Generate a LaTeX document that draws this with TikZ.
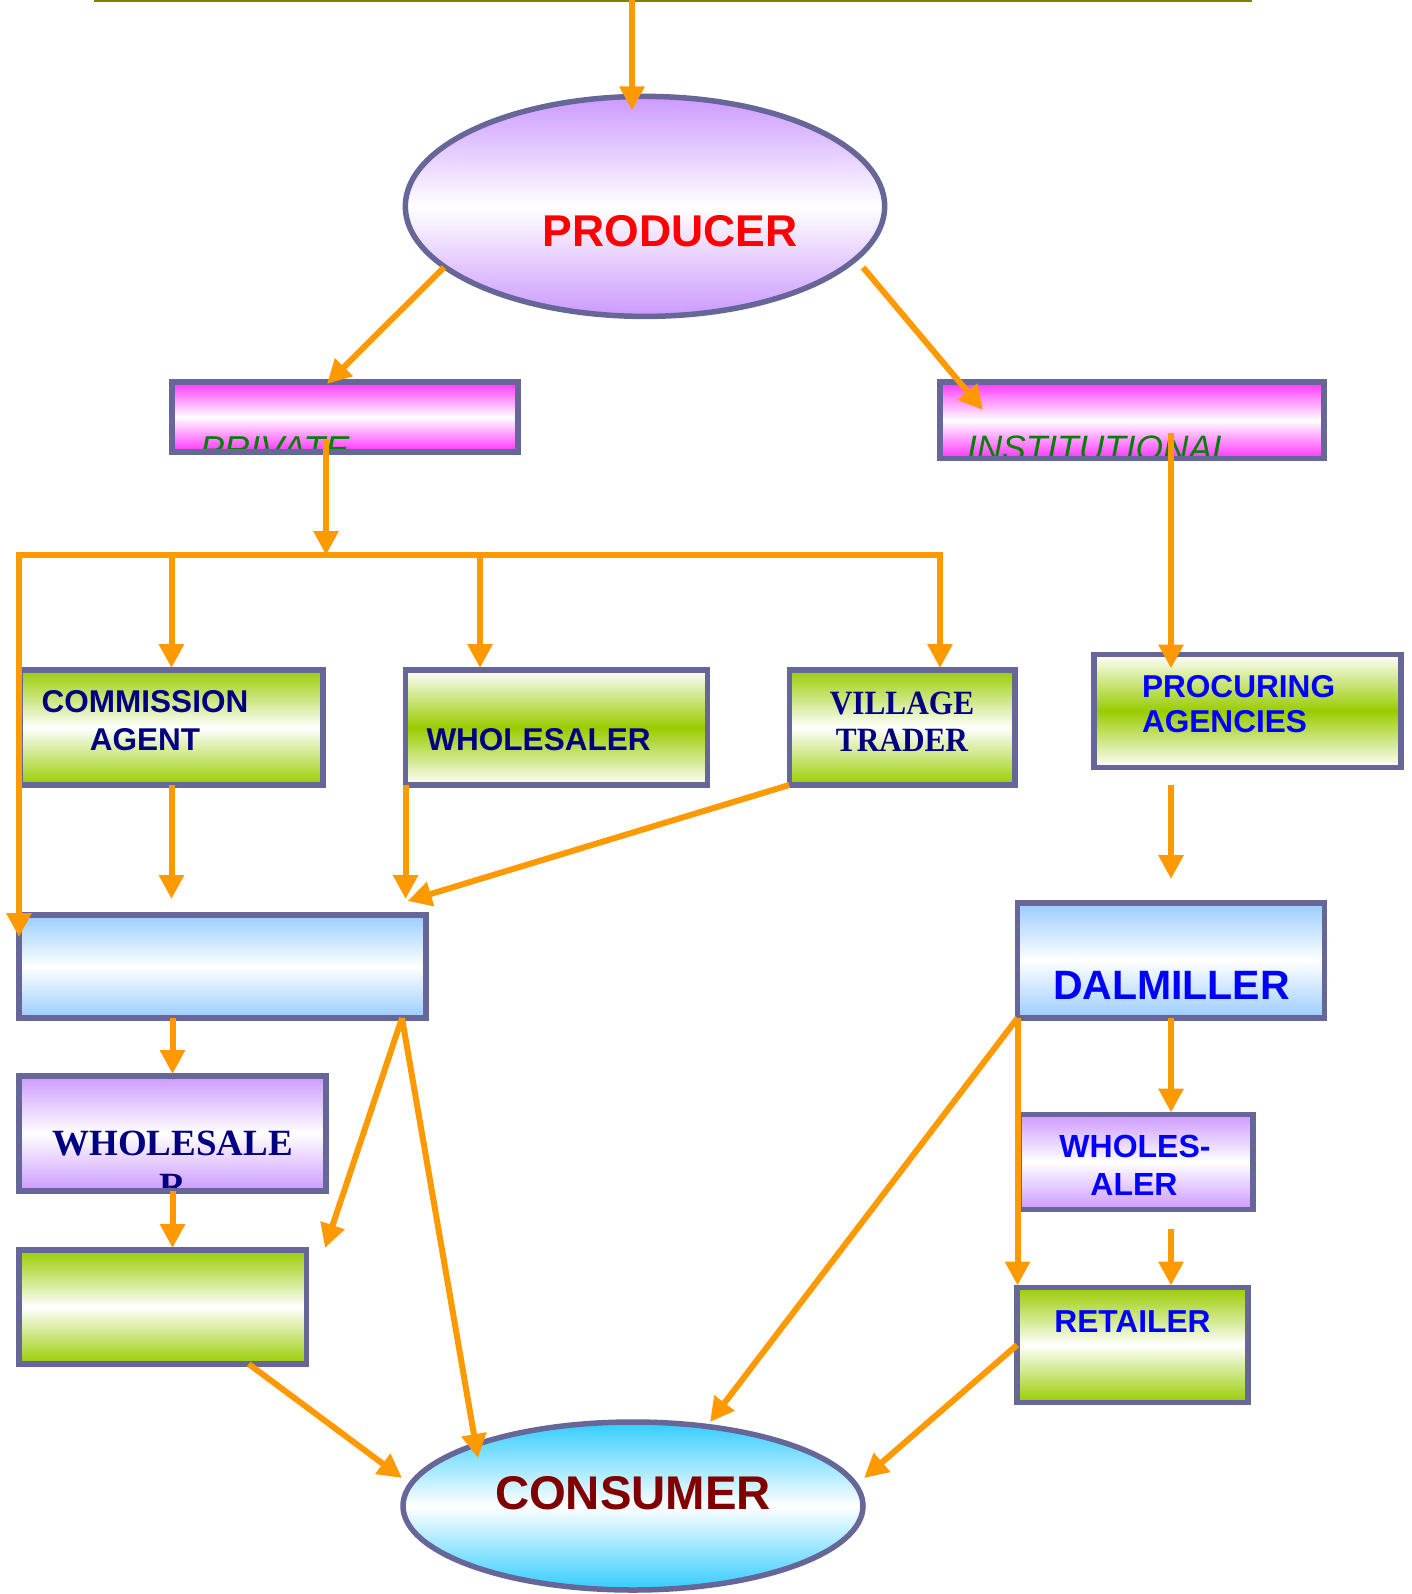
\documentclass[tikz,border=0pt]{standalone}
\usepackage{fontspec}
\setmainfont{Liberation Sans}
\newfontfamily\tnr{Liberation Serif}
\usetikzlibrary{arrows.meta,shapes.geometric,calc}
\definecolor{orng}{HTML}{FF9900}
\definecolor{bord}{HTML}{666699}
\definecolor{purp}{HTML}{CC99FF}
\definecolor{mag}{HTML}{FF33FF}
\definecolor{grn}{HTML}{99CC00}
\definecolor{lblue}{HTML}{99CCFF}
\definecolor{cyn}{HTML}{33CCFF}
\definecolor{olv}{HTML}{808000}
\definecolor{nvy}{HTML}{000080}
\definecolor{blu}{HTML}{0000FF}
\definecolor{grtxt}{HTML}{008000}
\definecolor{mroon}{HTML}{800000}
\newcommand\myfs[1]{\fontsize{#1}{#1}\selectfont}
\begin{document}
\begin{tikzpicture}[x=1pt,y=-1pt,
  box/.style={rectangle, draw=bord, line width=5.5pt, inner sep=0pt, outer sep=0pt},
  oval/.style={ellipse, draw=bord, line width=5.5pt, inner sep=0pt, outer sep=0pt},
  shP/.style={top color=purp, bottom color=purp, middle color=white},
  shM/.style={top color=mag, bottom color=mag, middle color=white},
  shG/.style={top color=grn, bottom color=grn, middle color=white},
  shGi/.style={top color=white, bottom color=white, middle color=grn},
  shB/.style={top color=lblue, bottom color=lblue, middle color=white},
  shC/.style={top color=cyn, bottom color=cyn, middle color=white},
  arr/.style={draw=orng, line width=6pt, -{Triangle[length=24pt,width=24pt]}},
  lbl/.style={anchor=base, inner sep=0pt, outer sep=0pt},
  intxt/.style={inner sep=0pt, outer sep=0pt, minimum width=0pt, minimum height=0pt},
  sansb/.style={font=\myfs{#1}\bfseries},
  serb/.style={font=\tnr\myfs{#1}\bfseries},
]
\useasboundingbox (0,0) rectangle (1411,1594);

% top line
\draw[olv, line width=3pt] (94,0.5) -- (1252,0.5);

% nodes
\node[oval, shP, minimum width=479.4pt, minimum height=220pt] (prod) at (645,206.4) {};
\node[box, shM, minimum width=346pt, minimum height=70pt,
  path picture={\node[intxt, anchor=base west, font=\myfs{36}\itshape, text=grtxt] (privtxt)
    at ($(path picture bounding box.north west)+(28,79)$) {PRIVATE};}] (priv) at (345,417) {};
\node[box, shM, minimum width=384pt, minimum height=76.5pt,
  path picture={\node[intxt, anchor=base west, font=\myfs{35.3}\itshape, text=grtxt] (insttxt)
    at ($(path picture bounding box.north west)+(27,78)$) {INSTITUTIONAL};}] (inst) at (1132,420.25) {};
\node[box, shG, minimum width=303pt, minimum height=115pt] (cA) at (171.5,727.5) {};
\node[box, shGi, minimum width=302pt, minimum height=115pt] (ws) at (556.6,727.5) {};
\node[box, shG, minimum width=225.5pt, minimum height=115pt] (vt) at (902,727.5) {};
\node[box, shGi, minimum width=307pt, minimum height=113pt] (pa) at (1247.5,711) {};
\node[box, shB, minimum width=407pt, minimum height=103pt] (lb) at (222.5,966.5) {};
\node[box, shB, minimum width=307pt, minimum height=115pt] (dal) at (1171,960.5) {};
\node[box, shP, minimum width=307pt, minimum height=115pt,
  path picture={
    \node[intxt, anchor=base, serb=37, text=nvy] (wrt1) at ($(path picture bounding box.center)+(0,21.5)$) {WHOLESALE};
    \node[intxt, anchor=base, serb=37, text=nvy] (wrt2) at ($(path picture bounding box.center)+(0,64.5)$) {R};}] (wr) at (172.5,1133.5) {};
\node[box, shG, minimum width=287.5pt, minimum height=114pt] (gb) at (162.75,1307) {};
\node[box, shP, minimum width=234pt, minimum height=95pt] (wa) at (1136,1162) {};
\node[box, shG, minimum width=231pt, minimum height=115pt] (ret) at (1132.5,1345) {};
\node[oval, shC, minimum width=460pt, minimum height=168pt] (cons) at (633,1506) {};

% labels
\node[lbl, sansb=44.5, text=red] (tprod) at (670,247) {PRODUCER};
\node[lbl, sansb=47.3, text=mroon] (tcons) at (633,1509) {CONSUMER};
\node[lbl, sansb=31.5, text=nvy] (tca1) at (145,712) {COMMISSION};
\node[lbl, sansb=31.5, text=nvy] (tca2) at (145,750) {AGENT};
\node[lbl, sansb=31.5, text=nvy] (tws) at (538.5,750) {WHOLESALER};
\node[lbl, serb=34, text=nvy] (tvt1) at (902,714) {\scalebox{0.92}[1]{VILLAGE}};
\node[lbl, serb=34, text=nvy] (tvt2) at (902,751) {\scalebox{0.92}[1]{TRADER}};
\node[lbl, anchor=base west, sansb=31.6, text=blu] (tpa1) at (1142,697) {PROCURING};
\node[lbl, anchor=base west, sansb=31.6, text=blu] (tpa2) at (1142,732) {AGENCIES};
\node[lbl, sansb=41, text=blu] (tdal) at (1171.5,999) {DALMILLER};
\node[lbl, sansb=32, text=blu] (twa1) at (1135,1157) {WHOLES-};
\node[lbl, sansb=32, text=blu] (twa2) at (1134,1195) {ALER};
\node[lbl, sansb=31.7, text=blu] (tret) at (1132.5,1332) {RETAILER};

% coordinates
\coordinate (ts) at (632,0);
\coordinate (jL) at (19,555);
\coordinate (jR) at (940,555);
\coordinate (jP) at (326,555);
\coordinate (b2) at (480,555);
\coordinate (iS) at ($(inst.south)+(39,-25.5)$);
\coordinate (lbo) at ($(lb.south east)+(-24,0)$);
\coordinate (free) at (325,1248);
\coordinate (wS) at ($(dal.south |- wa.south)+(0,19)$);

% connectors
\draw[arr] (ts) -- ($(ts |- prod.north)+(0,14)$);
\draw[arr] ($(prod.center)+(-201,61)$) -- ($(priv.north)+(-18,2)$);
\draw[arr] ($(prod.center)+(218,61)$) -- ($(inst.north west)+(43,28)$);
\draw[arr] ($(priv.south)+(-19,-12)$) -- (jP);
\draw[arr] (jR) -- (jL) -- ($(jL |- lb.north)+(0,22)$);
\draw[arr] (jL -| cA.north) -- ($(cA.north)+(0,-2)$);
\draw[arr] (b2) -- ($(b2 |- ws.north)+(0,-2)$);
\draw[arr] ($(jR)+(0,-3)$) -- ($(jR |- vt.north)+(0,-2)$);
\draw[arr] (iS) -- ($(iS |- pa.north)+(0,14)$);
\draw[arr] ($(pa.south -| iS)+(0,17)$) -- ($(iS |- dal.north)+(0,-24)$);
\draw[arr] (cA.south) -- ($(cA.south |- lb.north)+(0,-16)$);
\draw[arr] (ws.south west) -- ($(ws.south west |- lb.north)+(0,-16)$);
\draw[arr] (vt.south west) -- ($(ws.south west |- lb.north)+(2,-14)$);
\draw[arr] (lb.south -| wr.north) -- ($(wr.north)+(0,-2)$);
\draw[arr] (wr.south) -- ($(wr.south |- gb.north)+(0,-2)$);
\draw[arr] (lbo) -- (free);
\draw[arr] (lbo) -- ($(cons.center)+(-155,-48)$);
\draw[arr] ($(gb.south)+(86,0)$) -- ($(cons.center)+(-231,-28)$);
\draw[arr] (dal.south) -- ($(dal.south |- wa.north)+(0,-2)$);
\draw[arr] (wS) -- ($(wS |- ret.north)+(0,-2)$);
\draw[arr] (dal.south west) -- ($(dal.south west |- ret.north)+(0,-2)$);
\draw[arr] (dal.south west) -- ($(cons.center)+(77,-84)$);
\draw[arr] (ret.west) -- ($(cons.center)+(231,-28)$);
\end{tikzpicture}
\end{document}
